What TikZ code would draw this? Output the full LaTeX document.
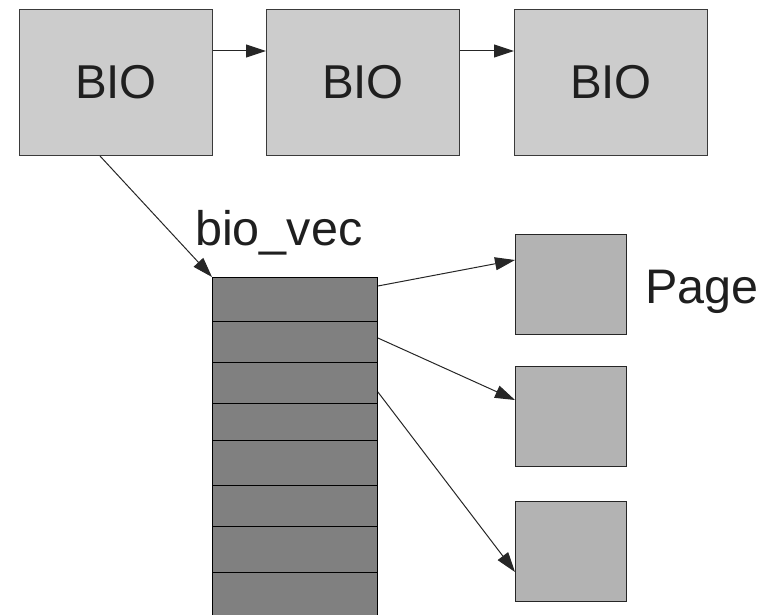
\documentclass[tikz,border=0pt]{standalone}
\usepackage{fontspec}
\setmainfont{Liberation Sans}
\usetikzlibrary{arrows.meta,calc}
\definecolor{biofill}{HTML}{CCCCCC}
\definecolor{vecfill}{HTML}{808080}
\definecolor{pagefill}{HTML}{B3B3B3}
\definecolor{edge}{HTML}{3A3A3A}
\begin{document}
\begin{tikzpicture}[x=1pt,y=-1pt,
  biobox/.style={draw=edge,line width=1pt,fill=biofill,anchor=north west,
    minimum width=193pt,minimum height=146pt,inner sep=0pt,
    font=\fontsize{47.5}{50}\selectfont,text=black!88},
  vecrow/.style={draw=black,line width=0.9pt,fill=vecfill,anchor=north west,
    minimum width=165pt,inner sep=0pt},
  pagebox/.style={draw=black!85,line width=1pt,fill=pagefill,anchor=north west,
    minimum width=111pt,minimum height=100pt,inner sep=0pt},
  label/.style={inner sep=0pt,anchor=base west,font=\fontsize{48.5}{52}\selectfont,text=black!88},
  link/.style={draw=black!85,line width=1pt,-{Triangle[length=20pt,width=13pt]}}
]
\useasboundingbox (0,0) rectangle (774,615);
\clip (0,0) rectangle (774,615);

% chain of bio structures
\node[biobox] (bio1) at (19,9) {BIO};
\node[biobox] (bio2) at (266,9) {BIO};
\node[biobox] (bio3) at (514,9) {BIO};

% the bio_vec array
\node[vecrow,minimum height=44pt] (r1) at (212,277) {};
\node[vecrow,minimum height=41pt] (r2) at (212,321) {};
\node[vecrow,minimum height=41pt] (r3) at (212,362) {};
\node[vecrow,minimum height=37pt] (r4) at (212,403) {};
\node[vecrow,minimum height=45pt] (r5) at (212,440) {};
\node[vecrow,minimum height=41pt] (r6) at (212,485) {};
\node[vecrow,minimum height=46pt] (r7) at (212,526) {};
\node[vecrow,minimum height=50pt] (r8) at (212,572) {};

% pages
\node[pagebox] (p1) at (515,234) {};
\node[pagebox] (p2) at (515,366) {};
\node[pagebox] (p3) at (515,501) {};

% labels
\node[label] (veclabel) at (195,245) {bio\_vec};
\node[label] (pagelabel) at (645,303) {Page};

% connectors
\draw[link] ($(bio1.north east)+(0,42)$) -- ($(bio2.north west)+(0,42)$);
\draw[link] ($(bio2.north east)+(0,42)$) -- ($(bio3.north west)+(0,42)$);
\draw[link] ($(bio1.south west)+(81,0)$) -- (r1.north west);
\draw[link] ($(r1.north east)+(0,9)$) -- ($(p1.north west)+(0,26)$);
\draw[link] ($(r2.north east)+(0,17)$) -- ($(p2.north west)+(0,34)$);
\draw[link] ($(r3.north east)+(0,30)$) -- ($(p3.north west)+(0,71)$);
\end{tikzpicture}
\end{document}
